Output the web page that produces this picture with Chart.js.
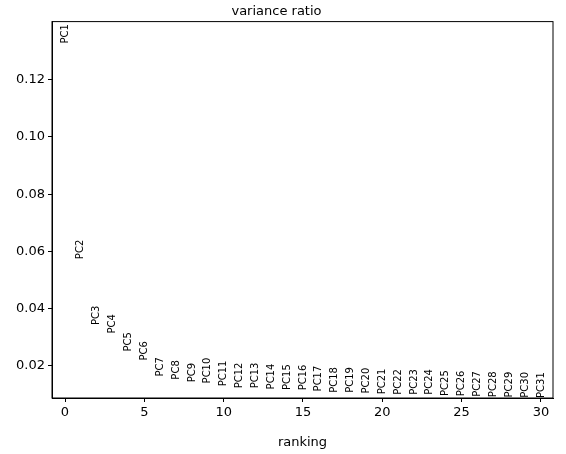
<!DOCTYPE html>
<html><head><script src="https://cdn.jsdelivr.net/npm/chart.js@4"></script>
<style>body{margin:0;background:#fff}#wrap{width:566px;height:454px}</style></head>
<body><div id="wrap"><canvas id="pcaChart"></canvas></div>
<script>
var labels = ['PC1','PC2','PC3','PC4','PC5','PC6','PC7','PC8','PC9','PC10','PC11','PC12','PC13','PC14','PC15','PC16','PC17','PC18','PC19','PC20','PC21','PC22','PC23','PC24','PC25','PC26','PC27','PC28','PC29','PC30','PC31'];
var ratios = [0.136,0.0607,0.0377,0.0347,0.0284,0.0253,0.0197,0.0186,0.0177,0.0184,0.0174,0.0167,0.0167,0.0163,0.0161,0.016,0.0156,0.0151,0.0151,0.0149,0.0146,0.0144,0.0144,0.0144,0.014,0.0139,0.0137,0.0136,0.0135,0.0134,0.0133];
var rankings = labels.map(function(l, i) { return i; });

var font = 'DejaVu Sans';
var pcLabels = {
  id: 'pcLabels',
  afterDatasetsDraw: function(chart) {
    var c = chart.ctx, a = chart.chartArea;
    var x = chart.scales.x, y = chart.scales.y;
    c.save();
    c.font = '10px ' + font;
    c.fillStyle = '#000';
    c.textAlign = 'center';
    c.textBaseline = 'middle';
    rankings.forEach(function(r, i) {
      c.save();
      c.translate(x.getPixelForValue(r), y.getPixelForValue(ratios[i]));
      c.rotate(-Math.PI / 2);
      c.fillText(labels[i], 0, 0);
      c.restore();
    });
    c.strokeStyle = '#000';
    c.lineWidth = 1;
    c.strokeRect(a.left, a.top, a.right - a.left, a.bottom - a.top);
    c.restore();
  }
};

var ctx = document.getElementById('pcaChart').getContext('2d');
new Chart(ctx, {
  type: 'scatter',
  data: {
    datasets: [{
      data: rankings.map(function(r, i) { return {x: r, y: ratios[i]}; }),
      pointRadius: 0,
      showLine: false
    }]
  },
  plugins: [pcLabels],
  options: {
    responsive: true,
    maintainAspectRatio: false,
    animation: false,
    layout: {padding: {left: 0, right: 13, top: 0, bottom: 0}},
    plugins: {
      legend: {display: false},
      tooltip: {enabled: false},
      title: {display: true, text: 'variance ratio', color: '#000', font: {family: font, size: 13, weight: 'normal'}, padding: {top: 4, bottom: 2}}
    },
    scales: {
      x: {
        min: -0.82, max: 30.76,
        afterFit: function(s) { s.height = 56; },
        grid: {drawOnChartArea: false, tickLength: 4, color: '#000'},
        border: {color: '#000'},
        ticks: {stepSize: 5, color: '#000', font: {family: font, size: 13}, autoSkip: false,
          callback: function(v) { return v % 5 === 0 ? v : ''; }},
        afterBuildTicks: function(s) { s.ticks = [0,5,10,15,20,25,30].map(function(v) { return {value: v}; }); },
        title: {display: true, text: 'ranking', color: '#000', font: {family: font, size: 13}, padding: {top: 2}}
      },
      y: {
        min: 0.0088, max: 0.1403,
        afterFit: function(s) { s.width = 52; },
        grid: {drawOnChartArea: false, tickLength: 4, color: '#000'},
        border: {color: '#000'},
        afterBuildTicks: function(s) { s.ticks = [0.02,0.04,0.06,0.08,0.10,0.12].map(function(v) { return {value: v}; }); },
        ticks: {color: '#000', font: {family: font, size: 13}, callback: function(v) { return v.toFixed(2); }}
      }
    }
  }
});
</script></body></html>
